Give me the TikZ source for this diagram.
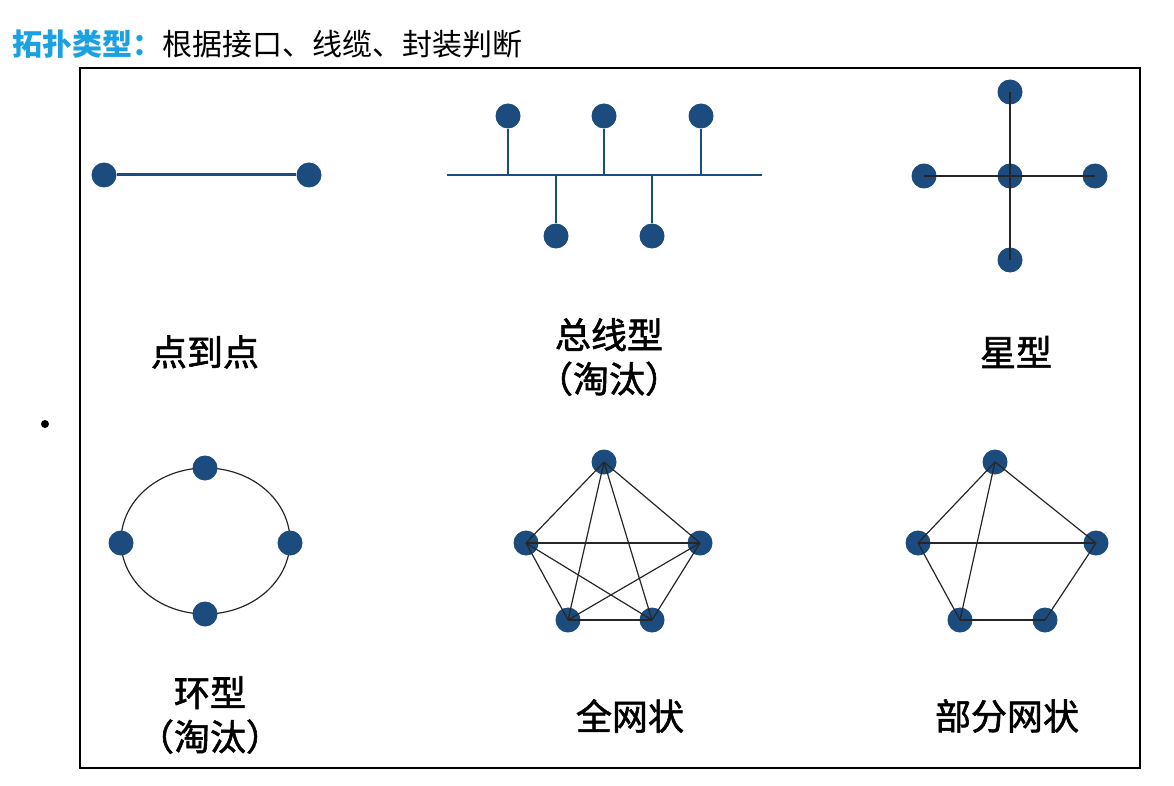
\documentclass[tikz,border=0pt]{standalone}
\usepackage{fontspec}
\setmainfont{Noto Sans CJK SC}
\newfontfamily\capfont[FakeBold=1.6]{Noto Sans CJK SC}
\definecolor{nodeblue}{HTML}{1C4B7E}
\definecolor{titleblue}{HTML}{1BA1E2}

\begin{document}
\begin{tikzpicture}[x=1pt, y=-1pt,
        dot/.style={circle, fill=nodeblue, inner sep=0pt, minimum size=25pt},
        bus/.style={nodeblue, line width=2pt},
        link/.style={black!85, line width=1.2pt},
        caption/.style={font=\fontsize{36}{44}\capfont, align=center}]
        \useasboundingbox (0,0) rectangle (1174,786);

        % Title and frame
        \node[anchor=west, inner sep=0pt, font=\fontsize{30}{34}\selectfont] (title) at (12,44)
            {{\color{titleblue}\bfseries 拓扑类型：}根据接口、线缆、封装判断};
        \draw[line width=2pt] (80,68) rectangle (1140,768);
        \fill (45,424) circle (4);

        % Point to point
        \node[dot] (p1) at (104,175) {};
        \node[dot] (p2) at (309,175) {};
        \draw[nodeblue, line width=3pt] (p1) -- (p2);
        \node[caption] (lp) at (205,352) {点到点};

        % Bus
        \coordinate (b0) at (447,175);
        \coordinate (b9) at (762,175);
        \node[dot] (b1) at (508,116) {};
        \node[dot] (b2) at (604,116) {};
        \node[dot] (b3) at (701,116) {};
        \node[dot] (b4) at (556,236) {};
        \node[dot] (b5) at (652,236) {};
        \draw[bus] (b0) -- (b9);
        \foreach \n in {b1,b2,b3,b4,b5}
            \draw[bus] (\n) -- (\n |- b0);
        \node[caption] (lb) at (609,357) {总线型\\（淘汰）};

        % Star
        \node[dot] (s0) at (1010,176) {};
        \node[dot] (s1) at (1010,92) {};
        \node[dot] (s2) at (924,176) {};
        \node[dot] (s3) at (1095,176) {};
        \node[dot] (s4) at (1010,260) {};
        \foreach \n in {s1,s2,s3,s4}
            \draw[link] (s0.center) -- (\n.center);
        \node[caption] (ls) at (1016,352) {星型};

        % Ring
        \coordinate (rc) at (205.5,541);
        \draw[link] (rc) ellipse [x radius=84.5pt, y radius=73pt];
        \node[dot] (r1) at (205,468) {};
        \node[dot] (r2) at (121,543) {};
        \node[dot] (r3) at (290,543) {};
        \node[dot] (r4) at (205,614) {};
        \node[caption] (lr) at (210,715) {环型\\（淘汰）};

        % Full mesh
        \node[dot] (f1) at (604,462) {};
        \node[dot] (f2) at (526,543) {};
        \node[dot] (f3) at (700,543) {};
        \node[dot] (f4) at (568,620) {};
        \node[dot] (f5) at (652,620) {};
        \foreach \a/\b in {f1/f2,f1/f3,f1/f4,f1/f5,f2/f3,f2/f4,f2/f5,f3/f4,f3/f5,f4/f5}
            \draw[link] (\a.center) -- (\b.center);
        \node[caption] (lf) at (630,716) {全网状};

        % Partial mesh
        \node[dot] (m1) at (995,462) {};
        \node[dot] (m2) at (918,543) {};
        \node[dot] (m3) at (1096,543) {};
        \node[dot] (m4) at (960,620) {};
        \node[dot] (m5) at (1045,620) {};
        \foreach \a/\b in {m1/m2,m1/m3,m1/m4,m2/m3,m2/m4,m3/m5,m4/m5}
            \draw[link] (\a.center) -- (\b.center);
        \node[caption] (lm) at (1007,716) {部分网状};
\end{tikzpicture}
\end{document}
